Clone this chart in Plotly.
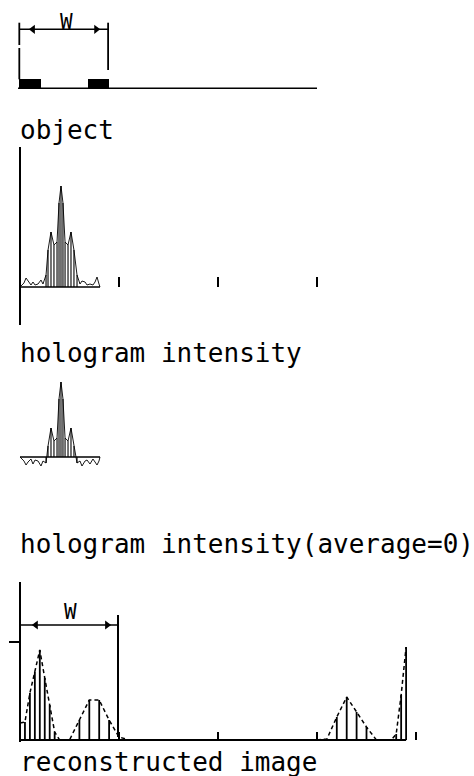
import plotly.graph_objects as go

FIG_W, FIG_H = 474, 776
ORIGIN_PX, UNIT_PX = 20, 99          # pixel column of x=0 and pixels per x unit
INK = "black"
MONO = "DejaVu Sans Mono"

# ---- object: two slits separated by W ----
slit_center = [0.101, 0.793]
slit_width = [0.216, 0.212]
slit_height = [9.5, 9.5]
object_span = [-0.02, 3.0]
object_w_ends = [-0.007, 0.89]

# ---- hologram intensity (sampled) ----
holo_x = [0.040, 0.061, 0.081, 0.111, 0.131, 0.152, 0.182, 0.212, 0.232, 0.263,
          0.283, 0.313, 0.343, 0.374, 0.394, 0.414, 0.434, 0.455, 0.485, 0.515, 0.545,
          0.576, 0.606, 0.626, 0.657, 0.677, 0.707, 0.737, 0.758, 0.778, 0.798]
holo_y = [4, 9, 6, 2, 5, 2, 3, 7, 3, 12,
          37, 55, 42, 45, 84, 101, 84, 45, 42, 55, 37,
          12, 3, 6, 5, 2, 3, 2, 5, 10, 3]
holo_span = [0.0, 0.808]
holo_ticks = [1, 2, 3]

# ---- hologram intensity with the average removed ----
holo0_y = [-4, -8, -5, -2, -7, -3, -4, -9, -4, -6,
           11, 29, 16, 19, 58, 75, 58, 19, 16, 29, 11,
           -6, -4, -9, -4, -3, -7, -2, -5, -8, -4]

# ---- reconstructed image ----
rec_x = [0.0, 0.05, 0.1, 0.15, 0.2, 0.25, 0.3, 0.35, 0.4,
         0.5, 0.6, 0.7, 0.8, 0.9, 1.0, 1.1,
         3.0, 3.1, 3.2, 3.3, 3.4, 3.5, 3.6,
         3.75, 3.8, 3.85, 3.9]
rec_y = [17, 18, 47, 68, 90, 62, 35, 8, 0,
         0, 20, 40, 40, 20, 3, 0,
         0, 1, 23, 43, 28, 13, 0,
         0, 6, 45, 93]
rec_ticks = [1, 2, 3, 4]
rec_level = 98
rec_w = 0.99

labels = ["object", "hologram intensity", "hologram intensity(average=0)", "reconstructed image"]
label_baseline_px = [139, 362, 553, 771]

# panel frames in pixels: (top, bottom, baseline)
frames = {1: (8, 96, 88.3), 2: (147, 325, 287), 3: (372, 480, 457), 4: (582, 742, 740)}


def py(p):
    return 1 - p / FIG_H


def px(p):
    return p / FIG_W


def stems(xs, ys):
    sx, sy = [], []
    for x, y in zip(xs, ys):
        if y:
            sx += [x, x, None]
            sy += [0, y, None]
    return sx, sy


fig = go.Figure()
x_range = [-ORIGIN_PX / UNIT_PX, (FIG_W - ORIGIN_PX) / UNIT_PX]

for k, (top, bot, base) in frames.items():
    sfx = "" if k == 1 else str(k)
    fig.layout["xaxis" + sfx] = dict(range=x_range, domain=[0, 1], showgrid=False, zeroline=False,
                                     showticklabels=False, showline=False, visible=False,
                                     anchor="free", position=py(base))
    fig.layout["yaxis" + sfx] = dict(range=[-(bot - base), base - top], domain=[py(bot), py(top)],
                                     showgrid=False, zeroline=False, showticklabels=False,
                                     visible=False, anchor="free", position=px(ORIGIN_PX))

# tick marks along the hologram and image axes
fig.layout.xaxis2.update(visible=True, ticks="inside", ticklen=10, tickwidth=1.5, tickcolor=INK,
                         tickvals=holo_ticks)
fig.layout.xaxis4.update(visible=True, ticks="inside", ticklen=8, tickwidth=1.5, tickcolor=INK,
                         tickvals=rec_ticks)
# vertical axes
fig.layout.yaxis2.update(visible=True, showline=True, linewidth=2, linecolor=INK, ticks="")
fig.layout.yaxis4.update(visible=True, showline=True, linewidth=2, linecolor=INK,
                         ticks="outside", ticklen=10, tickwidth=1.5, tickcolor=INK,
                         tickvals=[rec_level])


def line(xs, ys, k, width=1.5, dash=None):
    sfx = "" if k == 1 else str(k)
    fig.add_trace(go.Scatter(x=xs, y=ys, mode="lines", xaxis="x" + sfx, yaxis="y" + sfx,
                             line=dict(color=INK, width=width, dash=dash),
                             showlegend=False, hoverinfo="skip"))


def arrowheads(xl, xr, y, k):
    sfx = "" if k == 1 else str(k)
    fig.add_trace(go.Scatter(x=[xl, xr], y=[y, y], mode="markers", xaxis="x" + sfx, yaxis="y" + sfx,
                             marker=dict(symbol=["triangle-left", "triangle-right"], size=8,
                                         color=INK, line=dict(width=0)),
                             showlegend=False, hoverinfo="skip", cliponaxis=False))


def comb(ys, k):
    """Sampled trace: thin outline through the samples plus a stem under each fringe sample."""
    big = [i for i, v in enumerate(holo_y) if v > 10]
    first, last = big[0], big[-1]
    line([holo_span[0]] + holo_x + [holo_span[1]], [0] + ys + [0], k, width=0.9)
    sx, sy = stems(holo_x[first:last + 1], ys[first:last + 1])
    line(sx, sy, k, width=1.1)
    line(holo_span, [0, 0], k, width=1.5)


# ---- panel 1: object ----
fig.add_trace(go.Bar(x=slit_center, y=slit_height, width=slit_width, base=0,
                     marker=dict(color=INK, line=dict(width=0)), xaxis="x", yaxis="y",
                     showlegend=False, hoverinfo="skip"))
line(object_span, [0, 0], 1, width=1.5)
line([object_w_ends[0], object_w_ends[0], None, object_w_ends[0], object_w_ends[0], None,
      object_w_ends[1], object_w_ends[1]],
     [65.6, 43.3, None, 40.3, 9, None, 65.6, 18.3], 1, width=1.8)
line(object_w_ends, [59, 59], 1, width=1.5)
arrowheads(0.13, 0.77, 59, 1)

# ---- panel 2: hologram intensity ----
comb(holo_y, 2)

# ---- panel 3: hologram intensity, zero mean ----
comb(holo0_y, 3)

# ---- panel 4: reconstructed image ----
line([rec_x[0], rec_x[-1]], [0, 0], 4, width=2)
line(rec_x, rec_y, 4, width=1.5, dash="4px,3px")
sx, sy = stems(rec_x, rec_y)
line(sx, sy, 4, width=1.8)
line([rec_w, rec_w], [3, 125], 4, width=2)
line([0, rec_w], [115, 115], 4, width=1.5)
arrowheads(0.16, 0.88, 115, 4)

# ---- text ----
for text, base in zip(labels, label_baseline_px):
    fig.add_annotation(text=text, x=px(18), y=py(base - 9), xref="paper", yref="paper",
                       xanchor="left", yanchor="middle", showarrow=False,
                       font=dict(family=MONO, size=26, color=INK))
for cx, cy in [(66, 22), (70, 612)]:
    fig.add_annotation(text="W", x=px(cx), y=py(cy), xref="paper", yref="paper",
                       xanchor="center", yanchor="middle", showarrow=False,
                       font=dict(family=MONO, size=21, color=INK))

fig.update_layout(width=FIG_W, height=FIG_H, margin=dict(l=0, r=0, t=0, b=0),
                  paper_bgcolor="white", plot_bgcolor="rgba(0,0,0,0)", bargap=0)

fig.write_html("out.html")
